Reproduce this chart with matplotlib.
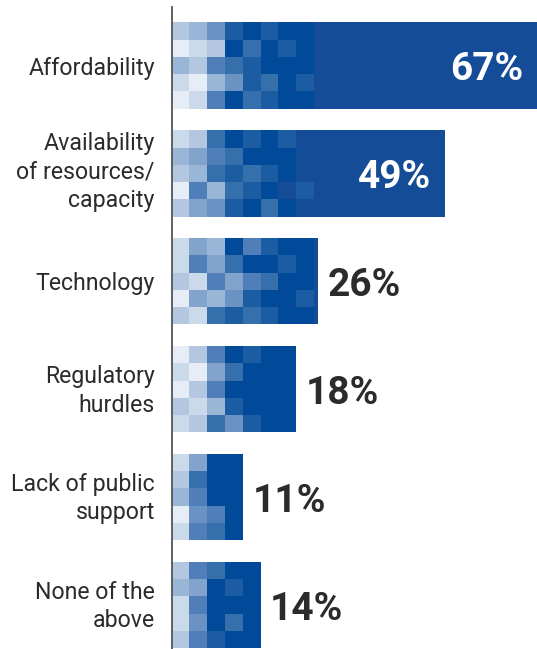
import numpy as np
import matplotlib.pyplot as plt
import matplotlib.transforms as mtransforms

# ---- data ----
categories = ["Affordability", "Availability\nof resources/\ncapacity", "Technology",
              "Regulatory\nhurdles", "Lack of public\nsupport", "None of the\nabove"]
pct_values = [67, 49, 26, 18, 11, 14]
# drawn bar length, in mosaic cells (one cell ~ 18 px in the original)
bar_lengths = [20.6, 15.37, 8.23, 7, 4, 5]

# shade level of every mosaic cell (0 = lightest, 9 = darkest, 10 = plain bar colour)
mosaic_afford = [[2, 3, 5, 8, 9, 8, 9, 9],
                 [0, 1, 2, 9, 7, 9, 8, 9],
                 [3, 2, 6, 7, 8, 9, 9, 9],
                 [1, 0, 3, 5, 8, 7, 9, 8],
                 [0, 1, 6, 9, 7, 8, 9, 9]]
mosaic_avail = [[1, 2, 7, 9, 8, 9, 8, 10],
                [3, 4, 6, 7, 9, 9, 9, 10],
                [2, 3, 7, 8, 7, 8, 9, 10],
                [0, 6, 3, 7, 8, 9, 10, 8],
                [2, 4, 5, 8, 9, 7, 9, 10]]
mosaic_tech = [[1, 4, 3, 9, 6, 8, 9, 9],
               [1, 6, 4, 7, 9, 9, 8, 9],
               [2, 1, 6, 4, 6, 7, 9, 9],
               [0, 4, 3, 5, 8, 9, 9, 8],
               [2, 1, 7, 8, 7, 8, 9, 9]]
mosaic_reg = [[0, 2, 6, 9, 8, 9, 9],
              [1, 0, 4, 7, 9, 9, 9],
              [0, 2, 6, 9, 9, 9, 9],
              [2, 1, 3, 8, 9, 9, 9],
              [1, 2, 7, 5, 8, 9, 9]]
mosaic_public = [[1, 4, 9, 9],
                 [2, 7, 9, 9],
                 [3, 6, 9, 9],
                 [0, 5, 6, 9],
                 [1, 6, 7, 9]]
mosaic_none = [[2, 6, 7, 9, 9],
               [3, 4, 9, 8, 9],
               [1, 6, 9, 9, 9],
               [1, 5, 9, 7, 9],
               [2, 6, 8, 9, 9]]
mosaics = [mosaic_afford, mosaic_avail, mosaic_tech, mosaic_reg, mosaic_public, mosaic_none]

# ---- style ----
shades = ['#e6edf6', '#cbdaea', '#b3c8e0', '#9ab6d6', '#82a3cc', '#6a92c3',
          '#4f7eb8', '#3570ad', '#1b5ca2', '#004a99', '#154c97']
bar_color = '#154c97'
text_color = '#2b2b2b'
bar_h = 0.8
row_h = bar_h / 5

plt.rcParams['font.family'] = ['Roboto', 'DejaVu Sans']

W, H = 537, 649
fig = plt.figure(figsize=(W / 100, H / 100), dpi=100)
x0 = 171.5
ax = fig.add_axes([x0 / W, 0, 1 - x0 / W, 642 / H])

n = len(categories)
y = np.arange(n)

# plain bar underneath
ax.barh(y, bar_lengths, height=bar_h, color=bar_color, linewidth=0)

# mosaic cells on top
for i, m in enumerate(mosaics):
    for r, row in enumerate(m):
        yc = i - bar_h / 2 + row_h * (r + 0.5)
        cols = np.arange(len(row))
        ax.barh(np.full(len(row), yc), 1.0, left=cols, height=row_h,
                color=[shades[l] for l in row], linewidth=0)

# percentage labels
for i, (v, L) in enumerate(zip(pct_values, bar_lengths)):
    if v >= 40:
        ax.annotate(f"{v}%", xy=(min(L, 20.53), i), xytext=(-10, 0), textcoords='offset points',
                    ha='right', va='center_baseline', fontsize=28, fontweight='bold', color='white')
    else:
        ax.annotate(f"{v}%", xy=(L, i), xytext=(7, 0), textcoords='offset points',
                    ha='left', va='center_baseline', fontsize=28, fontweight='bold', color=text_color)

ax.set_xlim(0, (W - x0) / 17.8)
ax.set_ylim(n - 1 + (649 - 605) / 107.9, -(65.5 - 7) / 107.9)

ax.set_yticks(y)
ax.set_yticklabels(categories, fontsize=16.7, color=text_color, linespacing=1.28)
ax.tick_params(axis='y', length=0, pad=12)
# multi-line labels sit a little higher in the original
for lab, name in zip(ax.get_yticklabels(), categories):
    k = name.count('\n')
    if k:
        lab.set_transform(lab.get_transform() +
                          mtransforms.ScaledTranslation(0, 3.2 * k / 100, fig.dpi_scale_trans))
ax.set_xticks([])
for s in ['top', 'right', 'bottom']:
    ax.spines[s].set_visible(False)
ax.spines['left'].set_color('#555555')
ax.spines['left'].set_linewidth(1.3)

fig.savefig('out.png', dpi=100)
